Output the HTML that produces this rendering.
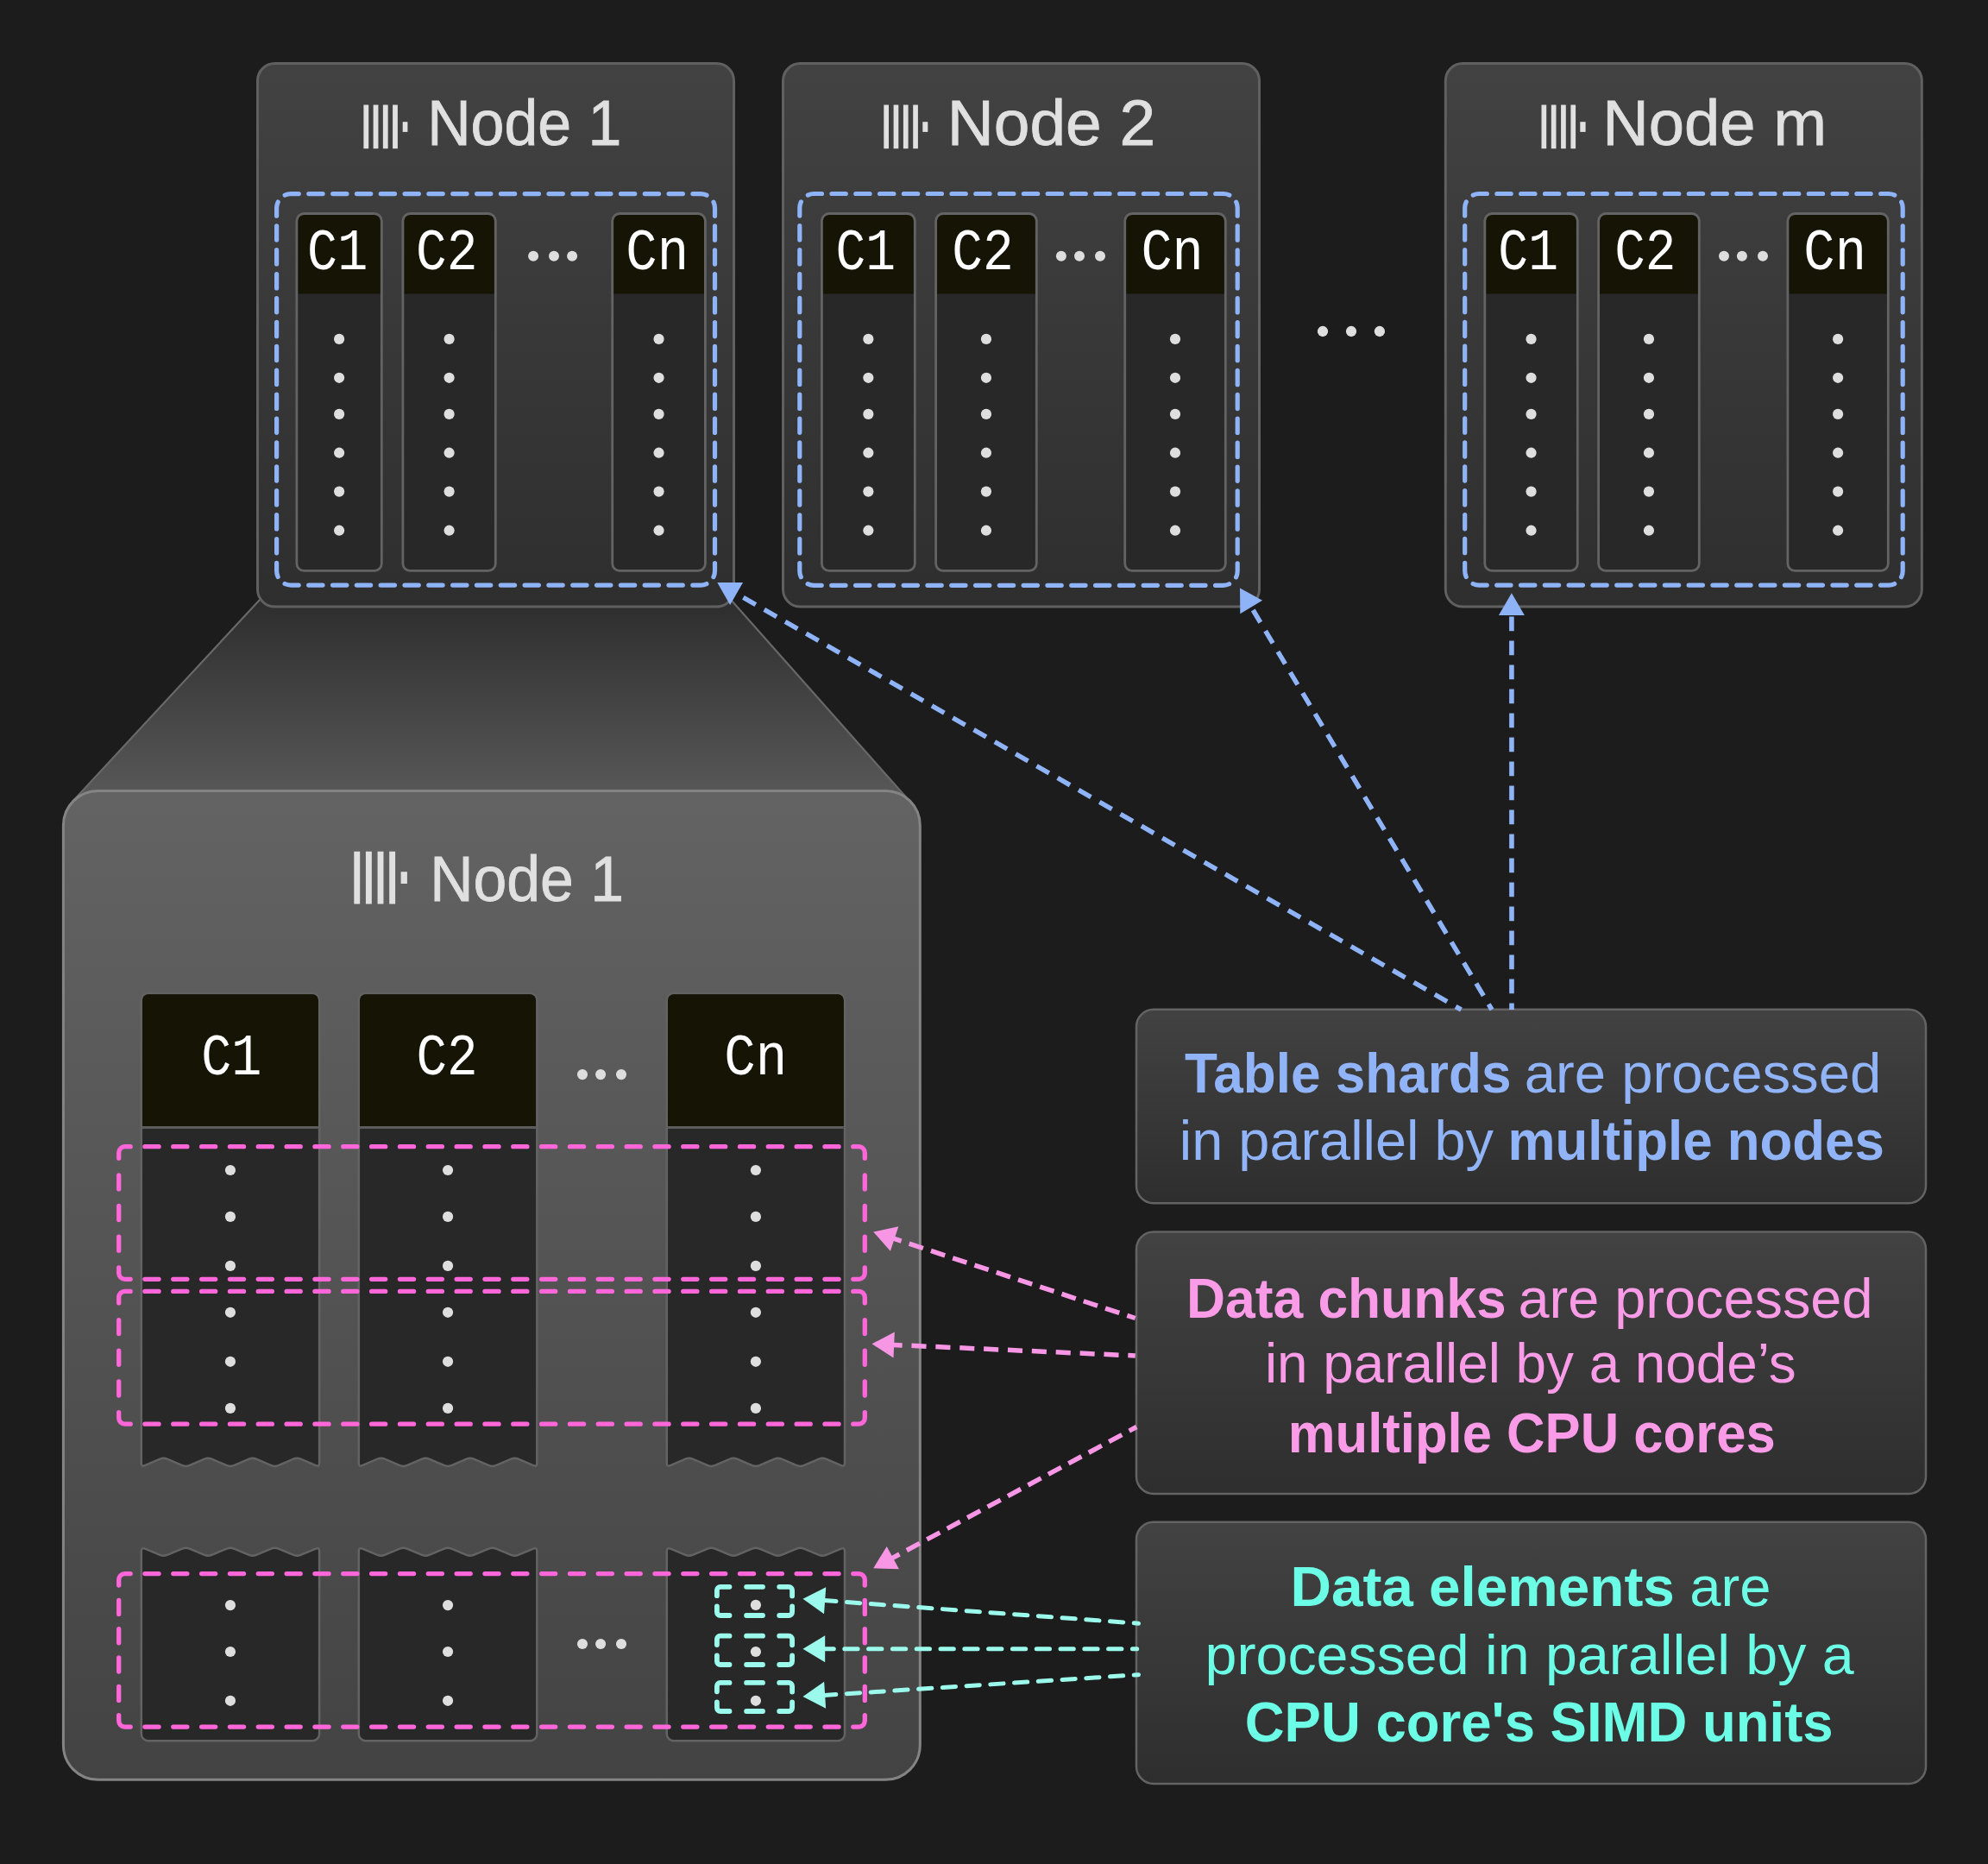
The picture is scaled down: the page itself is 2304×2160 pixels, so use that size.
<!DOCTYPE html><html><head><meta charset="utf-8"><style>html,body{margin:0;padding:0;background:#1c1c1c;overflow:hidden}svg{display:block}</style></head><body>
<svg width="2304" height="2160" viewBox="0 0 2304 2160">
<defs>
<linearGradient id="gNode" x1="0" y1="0" x2="0" y2="1"><stop offset="0" stop-color="#424242"/><stop offset="1" stop-color="#2e2e2e"/></linearGradient>
<linearGradient id="gTrap" gradientUnits="userSpaceOnUse" x1="0" y1="695" x2="0" y2="916"><stop offset="0" stop-color="#2d2d2d"/><stop offset="1" stop-color="#575757"/></linearGradient>
<linearGradient id="gBig" x1="0" y1="0" x2="0" y2="1"><stop offset="0" stop-color="#636363"/><stop offset="1" stop-color="#434343"/></linearGradient>
<linearGradient id="gBox" x1="0" y1="0" x2="0" y2="1"><stop offset="0" stop-color="#424242"/><stop offset="1" stop-color="#2e2e2e"/></linearGradient>
</defs>
<rect x="0" y="0" width="2304" height="2160" fill="#1c1c1c"/>
<polygon points="305.7,690 842.6,690 1055.8,930.3 1026,960 113,960 83.9,929" fill="url(#gTrap)"/>
<path d="M305.7,690 L83.9,929 M842.6,690 L1055.8,930.3" fill="none" stroke="#686868" stroke-width="2.2"/>
<rect x="298.5" y="73.5" width="552" height="629.6" rx="20" fill="url(#gNode)" stroke="#606060" stroke-width="3"/>
<rect x="907.5" y="73.5" width="552" height="629.6" rx="20" fill="url(#gNode)" stroke="#606060" stroke-width="3"/>
<rect x="1675.3" y="73.5" width="552" height="629.6" rx="20" fill="url(#gNode)" stroke="#606060" stroke-width="3"/>
<text x="495.14" y="168.3" font-family="'Liberation Sans', sans-serif" font-size="74.3" font-weight="normal" fill="#e0e0e0" textLength="225.24" lengthAdjust="spacingAndGlyphs" stroke="#e0e0e0" stroke-width="0.8">Node 1</text>
<rect x="421.4" y="121.5" width="5.8" height="50.7" fill="#e0e0e0"/>
<rect x="432.63" y="121.5" width="5.8" height="50.7" fill="#e0e0e0"/>
<rect x="443.86" y="121.5" width="5.8" height="50.7" fill="#e0e0e0"/>
<rect x="455.09" y="121.5" width="5.8" height="50.7" fill="#e0e0e0"/>
<rect x="466.7" y="141.2" width="5.7" height="11.7" fill="#e0e0e0"/>
<rect x="343.9" y="247.5" width="98.4" height="413.9" rx="8.5" fill="#282828"/>
<path d="M345.3,340.5 V256 A7.1,7.1 0 0 1 352.4,248.9 H433.8 A7.1,7.1 0 0 1 440.9,256 V340.5 Z" fill="#151405"/>
<rect x="343.9" y="247.5" width="98.4" height="413.9" rx="8.5" fill="none" stroke="#636363" stroke-width="2.8"/>
<circle cx="393.1" cy="392.9" r="6.1" fill="#dedede"/>
<circle cx="393.1" cy="437.8" r="6.1" fill="#dedede"/>
<circle cx="393.1" cy="479.9" r="6.1" fill="#dedede"/>
<circle cx="393.1" cy="524.7" r="6.1" fill="#dedede"/>
<circle cx="393.1" cy="569.6" r="6.1" fill="#dedede"/>
<circle cx="393.1" cy="614.7" r="6.1" fill="#dedede"/>
<rect x="466.9" y="247.5" width="107.4" height="413.9" rx="8.5" fill="#282828"/>
<path d="M468.3,340.5 V256 A7.1,7.1 0 0 1 475.4,248.9 H565.8 A7.1,7.1 0 0 1 572.9,256 V340.5 Z" fill="#151405"/>
<rect x="466.9" y="247.5" width="107.4" height="413.9" rx="8.5" fill="none" stroke="#636363" stroke-width="2.8"/>
<circle cx="520.6" cy="392.9" r="6.1" fill="#dedede"/>
<circle cx="520.6" cy="437.8" r="6.1" fill="#dedede"/>
<circle cx="520.6" cy="479.9" r="6.1" fill="#dedede"/>
<circle cx="520.6" cy="524.7" r="6.1" fill="#dedede"/>
<circle cx="520.6" cy="569.6" r="6.1" fill="#dedede"/>
<circle cx="520.6" cy="614.7" r="6.1" fill="#dedede"/>
<rect x="709.7" y="247.5" width="107.7" height="413.9" rx="8.5" fill="#282828"/>
<path d="M711.1,340.5 V256 A7.1,7.1 0 0 1 718.2,248.9 H808.9 A7.1,7.1 0 0 1 816,256 V340.5 Z" fill="#151405"/>
<rect x="709.7" y="247.5" width="107.7" height="413.9" rx="8.5" fill="none" stroke="#636363" stroke-width="2.8"/>
<circle cx="763.55" cy="392.9" r="6.1" fill="#dedede"/>
<circle cx="763.55" cy="437.8" r="6.1" fill="#dedede"/>
<circle cx="763.55" cy="479.9" r="6.1" fill="#dedede"/>
<circle cx="763.55" cy="524.7" r="6.1" fill="#dedede"/>
<circle cx="763.55" cy="569.6" r="6.1" fill="#dedede"/>
<circle cx="763.55" cy="614.7" r="6.1" fill="#dedede"/>
<text x="356.09" y="312.3" font-family="'Liberation Mono', monospace" font-size="68.8" font-weight="normal" fill="#ffffff" textLength="70.1" lengthAdjust="spacingAndGlyphs">C1</text>
<text x="482.03" y="312.3" font-family="'Liberation Mono', monospace" font-size="68.8" font-weight="normal" fill="#ffffff" textLength="71.46" lengthAdjust="spacingAndGlyphs">C2</text>
<text x="725.26" y="312.3" font-family="'Liberation Mono', monospace" font-size="68.8" font-weight="normal" fill="#ffffff" textLength="72.87" lengthAdjust="spacingAndGlyphs">Cn</text>
<circle cx="618.1" cy="296.8" r="6" fill="#dedede"/>
<circle cx="642" cy="296.8" r="6" fill="#dedede"/>
<circle cx="663.1" cy="296.8" r="6" fill="#dedede"/>
<path d="M325.43,229.43 A16.5,16.5 0 0 1 337.1,224.6 H812 A16.5,16.5 0 0 1 823.67,229.43" fill="none" stroke="#8fb3f7" stroke-width="5.2" stroke-linecap="round" stroke-dasharray="16.3 11.52" stroke-dashoffset="22.06"/>
<path d="M823.67,229.43 A16.5,16.5 0 0 1 828.5,241.1 V661.6 A16.5,16.5 0 0 1 823.67,673.27" fill="none" stroke="#8fb3f7" stroke-width="5.2" stroke-linecap="round" stroke-dasharray="16.3 11.6" stroke-dashoffset="22.1"/>
<path d="M823.67,673.27 A16.5,16.5 0 0 1 812,678.1 H337.1 A16.5,16.5 0 0 1 325.43,673.27" fill="none" stroke="#8fb3f7" stroke-width="5.2" stroke-linecap="round" stroke-dasharray="16.3 11.52" stroke-dashoffset="22.06"/>
<path d="M325.43,673.27 A16.5,16.5 0 0 1 320.6,661.6 V241.1 A16.5,16.5 0 0 1 325.43,229.43" fill="none" stroke="#8fb3f7" stroke-width="5.2" stroke-linecap="round" stroke-dasharray="16.3 11.6" stroke-dashoffset="22.1"/>
<text x="1097.72" y="168.3" font-family="'Liberation Sans', sans-serif" font-size="74.3" font-weight="normal" fill="#e0e0e0" textLength="241.38" lengthAdjust="spacingAndGlyphs" stroke="#e0e0e0" stroke-width="0.8">Node 2</text>
<rect x="1024.3" y="121.5" width="5.7" height="50.7" fill="#e0e0e0"/>
<rect x="1035.6" y="121.5" width="5.7" height="50.7" fill="#e0e0e0"/>
<rect x="1046.9" y="121.5" width="5.7" height="50.7" fill="#e0e0e0"/>
<rect x="1058.2" y="121.5" width="5.7" height="50.7" fill="#e0e0e0"/>
<rect x="1069.3" y="141.2" width="6" height="11.7" fill="#e0e0e0"/>
<rect x="952.4" y="247.5" width="107.9" height="413.9" rx="8.5" fill="#282828"/>
<path d="M953.8,340.5 V256 A7.1,7.1 0 0 1 960.9,248.9 H1051.8 A7.1,7.1 0 0 1 1058.9,256 V340.5 Z" fill="#151405"/>
<rect x="952.4" y="247.5" width="107.9" height="413.9" rx="8.5" fill="none" stroke="#636363" stroke-width="2.8"/>
<circle cx="1006.35" cy="392.9" r="6.1" fill="#dedede"/>
<circle cx="1006.35" cy="437.8" r="6.1" fill="#dedede"/>
<circle cx="1006.35" cy="479.9" r="6.1" fill="#dedede"/>
<circle cx="1006.35" cy="524.7" r="6.1" fill="#dedede"/>
<circle cx="1006.35" cy="569.6" r="6.1" fill="#dedede"/>
<circle cx="1006.35" cy="614.7" r="6.1" fill="#dedede"/>
<rect x="1084.6" y="247.5" width="116.7" height="413.9" rx="8.5" fill="#282828"/>
<path d="M1086,340.5 V256 A7.1,7.1 0 0 1 1093.1,248.9 H1192.8 A7.1,7.1 0 0 1 1199.9,256 V340.5 Z" fill="#151405"/>
<rect x="1084.6" y="247.5" width="116.7" height="413.9" rx="8.5" fill="none" stroke="#636363" stroke-width="2.8"/>
<circle cx="1142.95" cy="392.9" r="6.1" fill="#dedede"/>
<circle cx="1142.95" cy="437.8" r="6.1" fill="#dedede"/>
<circle cx="1142.95" cy="479.9" r="6.1" fill="#dedede"/>
<circle cx="1142.95" cy="524.7" r="6.1" fill="#dedede"/>
<circle cx="1142.95" cy="569.6" r="6.1" fill="#dedede"/>
<circle cx="1142.95" cy="614.7" r="6.1" fill="#dedede"/>
<rect x="1303.7" y="247.5" width="116.6" height="413.9" rx="8.5" fill="#282828"/>
<path d="M1305.1,340.5 V256 A7.1,7.1 0 0 1 1312.2,248.9 H1411.8 A7.1,7.1 0 0 1 1418.9,256 V340.5 Z" fill="#151405"/>
<rect x="1303.7" y="247.5" width="116.6" height="413.9" rx="8.5" fill="none" stroke="#636363" stroke-width="2.8"/>
<circle cx="1362" cy="392.9" r="6.1" fill="#dedede"/>
<circle cx="1362" cy="437.8" r="6.1" fill="#dedede"/>
<circle cx="1362" cy="479.9" r="6.1" fill="#dedede"/>
<circle cx="1362" cy="524.7" r="6.1" fill="#dedede"/>
<circle cx="1362" cy="569.6" r="6.1" fill="#dedede"/>
<circle cx="1362" cy="614.7" r="6.1" fill="#dedede"/>
<text x="968.41" y="312.3" font-family="'Liberation Mono', monospace" font-size="68.8" font-weight="normal" fill="#ffffff" textLength="69.55" lengthAdjust="spacingAndGlyphs">C1</text>
<text x="1103.22" y="312.3" font-family="'Liberation Mono', monospace" font-size="68.8" font-weight="normal" fill="#ffffff" textLength="71.57" lengthAdjust="spacingAndGlyphs">C2</text>
<text x="1322.39" y="312.3" font-family="'Liberation Mono', monospace" font-size="68.8" font-weight="normal" fill="#ffffff" textLength="72.3" lengthAdjust="spacingAndGlyphs">Cn</text>
<circle cx="1229.9" cy="296.8" r="6" fill="#dedede"/>
<circle cx="1251" cy="296.8" r="6" fill="#dedede"/>
<circle cx="1275" cy="296.8" r="6" fill="#dedede"/>
<path d="M931.63,229.33 A16.5,16.5 0 0 1 943.3,224.5 H1417.7 A16.5,16.5 0 0 1 1429.37,229.33" fill="none" stroke="#8fb3f7" stroke-width="5.2" stroke-linecap="round" stroke-dasharray="16.3 11.5" stroke-dashoffset="22.05"/>
<path d="M1429.37,229.33 A16.5,16.5 0 0 1 1434.2,241 V661.8 A16.5,16.5 0 0 1 1429.37,673.47" fill="none" stroke="#8fb3f7" stroke-width="5.2" stroke-linecap="round" stroke-dasharray="16.3 11.62" stroke-dashoffset="22.11"/>
<path d="M1429.37,673.47 A16.5,16.5 0 0 1 1417.7,678.3 H943.3 A16.5,16.5 0 0 1 931.63,673.47" fill="none" stroke="#8fb3f7" stroke-width="5.2" stroke-linecap="round" stroke-dasharray="16.3 11.5" stroke-dashoffset="22.05"/>
<path d="M931.63,673.47 A16.5,16.5 0 0 1 926.8,661.8 V241 A16.5,16.5 0 0 1 931.63,229.33" fill="none" stroke="#8fb3f7" stroke-width="5.2" stroke-linecap="round" stroke-dasharray="16.3 11.62" stroke-dashoffset="22.11"/>
<text x="1857.28" y="168.3" font-family="'Liberation Sans', sans-serif" font-size="74.3" font-weight="normal" fill="#e0e0e0" textLength="259.65" lengthAdjust="spacingAndGlyphs" stroke="#e0e0e0" stroke-width="0.8">Node m</text>
<rect x="1786.5" y="121.5" width="5.7" height="50.7" fill="#e0e0e0"/>
<rect x="1797.8" y="121.5" width="5.7" height="50.7" fill="#e0e0e0"/>
<rect x="1809.1" y="121.5" width="5.7" height="50.7" fill="#e0e0e0"/>
<rect x="1820.4" y="121.5" width="5.7" height="50.7" fill="#e0e0e0"/>
<rect x="1831.3" y="141.2" width="6.3" height="11.7" fill="#e0e0e0"/>
<rect x="1720.8" y="247.5" width="107.5" height="413.9" rx="8.5" fill="#282828"/>
<path d="M1722.2,340.5 V256 A7.1,7.1 0 0 1 1729.3,248.9 H1819.8 A7.1,7.1 0 0 1 1826.9,256 V340.5 Z" fill="#151405"/>
<rect x="1720.8" y="247.5" width="107.5" height="413.9" rx="8.5" fill="none" stroke="#636363" stroke-width="2.8"/>
<circle cx="1774.55" cy="392.9" r="6.1" fill="#dedede"/>
<circle cx="1774.55" cy="437.8" r="6.1" fill="#dedede"/>
<circle cx="1774.55" cy="479.9" r="6.1" fill="#dedede"/>
<circle cx="1774.55" cy="524.7" r="6.1" fill="#dedede"/>
<circle cx="1774.55" cy="569.6" r="6.1" fill="#dedede"/>
<circle cx="1774.55" cy="614.7" r="6.1" fill="#dedede"/>
<rect x="1852.6" y="247.5" width="116.7" height="413.9" rx="8.5" fill="#282828"/>
<path d="M1854,340.5 V256 A7.1,7.1 0 0 1 1861.1,248.9 H1960.8 A7.1,7.1 0 0 1 1967.9,256 V340.5 Z" fill="#151405"/>
<rect x="1852.6" y="247.5" width="116.7" height="413.9" rx="8.5" fill="none" stroke="#636363" stroke-width="2.8"/>
<circle cx="1910.95" cy="392.9" r="6.1" fill="#dedede"/>
<circle cx="1910.95" cy="437.8" r="6.1" fill="#dedede"/>
<circle cx="1910.95" cy="479.9" r="6.1" fill="#dedede"/>
<circle cx="1910.95" cy="524.7" r="6.1" fill="#dedede"/>
<circle cx="1910.95" cy="569.6" r="6.1" fill="#dedede"/>
<circle cx="1910.95" cy="614.7" r="6.1" fill="#dedede"/>
<rect x="2071.9" y="247.5" width="116.4" height="413.9" rx="8.5" fill="#282828"/>
<path d="M2073.3,340.5 V256 A7.1,7.1 0 0 1 2080.4,248.9 H2179.8 A7.1,7.1 0 0 1 2186.9,256 V340.5 Z" fill="#151405"/>
<rect x="2071.9" y="247.5" width="116.4" height="413.9" rx="8.5" fill="none" stroke="#636363" stroke-width="2.8"/>
<circle cx="2130.1" cy="392.9" r="6.1" fill="#dedede"/>
<circle cx="2130.1" cy="437.8" r="6.1" fill="#dedede"/>
<circle cx="2130.1" cy="479.9" r="6.1" fill="#dedede"/>
<circle cx="2130.1" cy="524.7" r="6.1" fill="#dedede"/>
<circle cx="2130.1" cy="569.6" r="6.1" fill="#dedede"/>
<circle cx="2130.1" cy="614.7" r="6.1" fill="#dedede"/>
<text x="1736.31" y="312.3" font-family="'Liberation Mono', monospace" font-size="68.8" font-weight="normal" fill="#ffffff" textLength="69.66" lengthAdjust="spacingAndGlyphs">C1</text>
<text x="1871.14" y="312.3" font-family="'Liberation Mono', monospace" font-size="68.8" font-weight="normal" fill="#ffffff" textLength="71.23" lengthAdjust="spacingAndGlyphs">C2</text>
<text x="2090.37" y="312.3" font-family="'Liberation Mono', monospace" font-size="68.8" font-weight="normal" fill="#ffffff" textLength="72.64" lengthAdjust="spacingAndGlyphs">Cn</text>
<circle cx="1998" cy="296.8" r="6" fill="#dedede"/>
<circle cx="2018.9" cy="296.8" r="6" fill="#dedede"/>
<circle cx="2043" cy="296.8" r="6" fill="#dedede"/>
<path d="M1702.53,229.33 A16.5,16.5 0 0 1 1714.2,224.5 H2188.7 A16.5,16.5 0 0 1 2200.37,229.33" fill="none" stroke="#8fb3f7" stroke-width="5.2" stroke-linecap="round" stroke-dasharray="16.3 11.5" stroke-dashoffset="22.05"/>
<path d="M2200.37,229.33 A16.5,16.5 0 0 1 2205.2,241 V661.6 A16.5,16.5 0 0 1 2200.37,673.27" fill="none" stroke="#8fb3f7" stroke-width="5.2" stroke-linecap="round" stroke-dasharray="16.3 11.61" stroke-dashoffset="22.1"/>
<path d="M2200.37,673.27 A16.5,16.5 0 0 1 2188.7,678.1 H1714.2 A16.5,16.5 0 0 1 1702.53,673.27" fill="none" stroke="#8fb3f7" stroke-width="5.2" stroke-linecap="round" stroke-dasharray="16.3 11.5" stroke-dashoffset="22.05"/>
<path d="M1702.53,673.27 A16.5,16.5 0 0 1 1697.7,661.6 V241 A16.5,16.5 0 0 1 1702.53,229.33" fill="none" stroke="#8fb3f7" stroke-width="5.2" stroke-linecap="round" stroke-dasharray="16.3 11.61" stroke-dashoffset="22.1"/>
<circle cx="1533" cy="384" r="6.15" fill="#dedede"/>
<circle cx="1566" cy="384" r="6.15" fill="#dedede"/>
<circle cx="1598.9" cy="384" r="6.15" fill="#dedede"/>
<rect x="73.4" y="916.4" width="992.9" height="1145.9" rx="40" fill="url(#gBig)" stroke="#848484" stroke-width="3"/>
<text x="498.15" y="1043.9" font-family="'Liberation Sans', sans-serif" font-size="73.7" font-weight="normal" fill="#e0e0e0" textLength="224.92" lengthAdjust="spacingAndGlyphs" stroke="#e0e0e0" stroke-width="0.8">Node 1</text>
<rect x="410.3" y="986.7" width="6.9" height="60.8" fill="#e0e0e0"/>
<rect x="423.93" y="986.7" width="6.9" height="60.8" fill="#e0e0e0"/>
<rect x="437.56" y="986.7" width="6.9" height="60.8" fill="#e0e0e0"/>
<rect x="451.19" y="986.7" width="6.9" height="60.8" fill="#e0e0e0"/>
<rect x="464.6" y="1010.2" width="7.3" height="13.8" fill="#e0e0e0"/>
<path d="M370.1,1159 L370.1,1695.5 Q370.1,1700 365.97,1698.21 L348.44,1690.59 Q344.31,1688.8 340.18,1690.59 L322.65,1698.21 Q318.53,1700 314.4,1698.21 L296.87,1690.59 Q292.74,1688.8 288.61,1690.59 L271.08,1698.21 Q266.95,1700 262.82,1698.21 L245.29,1690.59 Q241.16,1688.8 237.03,1690.59 L219.5,1698.21 Q215.38,1700 211.25,1698.21 L193.72,1690.59 Q189.59,1688.8 185.46,1690.59 L167.93,1698.21 Q163.8,1700 163.8,1695.5 L163.8,1159 A8,8 0 0 1 171.8,1151 H362.1 A8,8 0 0 1 370.1,1159 Z" fill="#282828" stroke="#636363" stroke-width="2.5" stroke-linejoin="round"/>
<path d="M165.05,1305 V1159 A6.75,6.75 0 0 1 171.8,1152.25 H362.1 A6.75,6.75 0 0 1 368.85,1159 V1305 Z" fill="#151405"/>
<rect x="165.05" y="1305" width="203.8" height="3" fill="#5c5c5c"/>
<path d="M163.8,2009.2 L163.8,1797.5 Q163.8,1793 167.97,1794.7 L185.42,1801.8 Q189.59,1803.5 193.76,1801.8 L211.21,1794.7 Q215.38,1793 219.54,1794.7 L236.99,1801.8 Q241.16,1803.5 245.33,1801.8 L262.78,1794.7 Q266.95,1793 271.12,1794.7 L288.57,1801.8 Q292.74,1803.5 296.91,1801.8 L314.36,1794.7 Q318.53,1793 322.69,1794.7 L340.14,1801.8 Q344.31,1803.5 348.48,1801.8 L365.93,1794.7 Q370.1,1793 370.1,1797.5 L370.1,2009.2 A8,8 0 0 1 362.1,2017.2 H171.8 A8,8 0 0 1 163.8,2009.2 Z" fill="#282828" stroke="#636363" stroke-width="2.5" stroke-linejoin="round"/>
<circle cx="266.95" cy="1356" r="6.1" fill="#dedede"/>
<circle cx="266.95" cy="1409.9" r="6.1" fill="#dedede"/>
<circle cx="266.95" cy="1466.9" r="6.1" fill="#dedede"/>
<circle cx="266.95" cy="1520.8" r="6.1" fill="#dedede"/>
<circle cx="266.95" cy="1577.8" r="6.1" fill="#dedede"/>
<circle cx="266.95" cy="1631.9" r="6.1" fill="#dedede"/>
<text x="233.19" y="1245" font-family="'Liberation Mono', monospace" font-size="68.8" font-weight="normal" fill="#ffffff" textLength="70.1" lengthAdjust="spacingAndGlyphs">C1</text>
<path d="M622.3,1159 L622.3,1695.5 Q622.3,1700 618.17,1698.21 L600.62,1690.59 Q596.49,1688.8 592.36,1690.59 L574.8,1698.21 Q570.67,1700 566.55,1698.21 L548.99,1690.59 Q544.86,1688.8 540.73,1690.59 L523.18,1698.21 Q519.05,1700 514.92,1698.21 L497.37,1690.59 Q493.24,1688.8 489.11,1690.59 L471.55,1698.21 Q467.43,1700 463.3,1698.21 L445.74,1690.59 Q441.61,1688.8 437.48,1690.59 L419.93,1698.21 Q415.8,1700 415.8,1695.5 L415.8,1159 A8,8 0 0 1 423.8,1151 H614.3 A8,8 0 0 1 622.3,1159 Z" fill="#282828" stroke="#636363" stroke-width="2.5" stroke-linejoin="round"/>
<path d="M417.05,1305 V1159 A6.75,6.75 0 0 1 423.8,1152.25 H614.3 A6.75,6.75 0 0 1 621.05,1159 V1305 Z" fill="#151405"/>
<rect x="417.05" y="1305" width="204" height="3" fill="#5c5c5c"/>
<path d="M415.8,2009.2 L415.8,1797.5 Q415.8,1793 419.97,1794.7 L437.44,1801.8 Q441.61,1803.5 445.78,1801.8 L463.26,1794.7 Q467.43,1793 471.59,1794.7 L489.07,1801.8 Q493.24,1803.5 497.41,1801.8 L514.88,1794.7 Q519.05,1793 523.22,1794.7 L540.69,1801.8 Q544.86,1803.5 549.03,1801.8 L566.51,1794.7 Q570.67,1793 574.84,1794.7 L592.32,1801.8 Q596.49,1803.5 600.66,1801.8 L618.13,1794.7 Q622.3,1793 622.3,1797.5 L622.3,2009.2 A8,8 0 0 1 614.3,2017.2 H423.8 A8,8 0 0 1 415.8,2009.2 Z" fill="#282828" stroke="#636363" stroke-width="2.5" stroke-linejoin="round"/>
<circle cx="519.05" cy="1356" r="6.1" fill="#dedede"/>
<circle cx="519.05" cy="1409.9" r="6.1" fill="#dedede"/>
<circle cx="519.05" cy="1466.9" r="6.1" fill="#dedede"/>
<circle cx="519.05" cy="1520.8" r="6.1" fill="#dedede"/>
<circle cx="519.05" cy="1577.8" r="6.1" fill="#dedede"/>
<circle cx="519.05" cy="1631.9" r="6.1" fill="#dedede"/>
<text x="482.44" y="1245" font-family="'Liberation Mono', monospace" font-size="68.8" font-weight="normal" fill="#ffffff" textLength="71.12" lengthAdjust="spacingAndGlyphs">C2</text>
<path d="M979,1159 L979,1695.5 Q979,1700 974.87,1698.21 L957.35,1690.59 Q953.23,1688.8 949.1,1690.59 L931.58,1698.21 Q927.45,1700 923.32,1698.21 L905.8,1690.59 Q901.67,1688.8 897.55,1690.59 L880.03,1698.21 Q875.9,1700 871.77,1698.21 L854.25,1690.59 Q850.12,1688.8 846,1690.59 L828.48,1698.21 Q824.35,1700 820.22,1698.21 L802.7,1690.59 Q798.57,1688.8 794.45,1690.59 L776.93,1698.21 Q772.8,1700 772.8,1695.5 L772.8,1159 A8,8 0 0 1 780.8,1151 H971 A8,8 0 0 1 979,1159 Z" fill="#282828" stroke="#636363" stroke-width="2.5" stroke-linejoin="round"/>
<path d="M774.05,1305 V1159 A6.75,6.75 0 0 1 780.8,1152.25 H971 A6.75,6.75 0 0 1 977.75,1159 V1305 Z" fill="#151405"/>
<rect x="774.05" y="1305" width="203.7" height="3" fill="#5c5c5c"/>
<path d="M772.8,2009.2 L772.8,1797.5 Q772.8,1793 776.97,1794.7 L794.41,1801.8 Q798.57,1803.5 802.74,1801.8 L820.18,1794.7 Q824.35,1793 828.52,1794.7 L845.96,1801.8 Q850.12,1803.5 854.29,1801.8 L871.73,1794.7 Q875.9,1793 880.07,1794.7 L897.51,1801.8 Q901.67,1803.5 905.84,1801.8 L923.28,1794.7 Q927.45,1793 931.62,1794.7 L949.06,1801.8 Q953.23,1803.5 957.39,1801.8 L974.83,1794.7 Q979,1793 979,1797.5 L979,2009.2 A8,8 0 0 1 971,2017.2 H780.8 A8,8 0 0 1 772.8,2009.2 Z" fill="#282828" stroke="#636363" stroke-width="2.5" stroke-linejoin="round"/>
<circle cx="875.9" cy="1356" r="6.1" fill="#dedede"/>
<circle cx="875.9" cy="1409.9" r="6.1" fill="#dedede"/>
<circle cx="875.9" cy="1466.9" r="6.1" fill="#dedede"/>
<circle cx="875.9" cy="1520.8" r="6.1" fill="#dedede"/>
<circle cx="875.9" cy="1577.8" r="6.1" fill="#dedede"/>
<circle cx="875.9" cy="1631.9" r="6.1" fill="#dedede"/>
<text x="839.25" y="1245" font-family="'Liberation Mono', monospace" font-size="68.8" font-weight="normal" fill="#ffffff" textLength="73.09" lengthAdjust="spacingAndGlyphs">Cn</text>
<circle cx="266.95" cy="1860.1" r="6.1" fill="#dedede"/>
<circle cx="266.95" cy="1914" r="6.1" fill="#dedede"/>
<circle cx="266.95" cy="1970.8" r="6.1" fill="#dedede"/>
<circle cx="519.05" cy="1860.1" r="6.1" fill="#dedede"/>
<circle cx="519.05" cy="1914" r="6.1" fill="#dedede"/>
<circle cx="519.05" cy="1970.8" r="6.1" fill="#dedede"/>
<circle cx="875.9" cy="1859.9" r="6.1" fill="#dedede"/>
<circle cx="875.9" cy="1914" r="6.1" fill="#dedede"/>
<circle cx="875.9" cy="1970.8" r="6.1" fill="#dedede"/>
<circle cx="675" cy="1245.1" r="6.05" fill="#dedede"/>
<circle cx="675" cy="1905" r="6.05" fill="#dedede"/>
<circle cx="696.1" cy="1245.1" r="6.05" fill="#dedede"/>
<circle cx="696.1" cy="1905" r="6.05" fill="#dedede"/>
<circle cx="720" cy="1245.1" r="6.05" fill="#dedede"/>
<circle cx="720" cy="1905" r="6.05" fill="#dedede"/>
<path d="M830.9,1849.2 V1842.8 A4,4 0 0 1 834.9,1838.8 H845.5 M865.1,1838.8 H884 M903.2,1838.8 H914.1 A4,4 0 0 1 918.1,1842.8 V1849.4 M830.9,1861.4 V1868 A4,4 0 0 0 834.9,1872 H845.5 M865.1,1872 H884 M903.2,1872 H914.1 A4,4 0 0 0 918.1,1868 V1861.4" fill="none" stroke="#9cfaec" stroke-width="5.8" stroke-linecap="round" stroke-linejoin="round"/>
<path d="M830.9,1906.1 V1899.7 A4,4 0 0 1 834.9,1895.7 H845.5 M865.1,1895.7 H884 M903.2,1895.7 H914.1 A4,4 0 0 1 918.1,1899.7 V1906.3 M830.9,1918.3 V1925 A4,4 0 0 0 834.9,1929 H845.5 M865.1,1929 H884 M903.2,1929 H914.1 A4,4 0 0 0 918.1,1925 V1918.3" fill="none" stroke="#9cfaec" stroke-width="5.8" stroke-linecap="round" stroke-linejoin="round"/>
<path d="M830.9,1960.3 V1953.9 A4,4 0 0 1 834.9,1949.9 H845.5 M865.1,1949.9 H884 M903.2,1949.9 H914.1 A4,4 0 0 1 918.1,1953.9 V1960.5 M830.9,1972.5 V1979 A4,4 0 0 0 834.9,1983 H845.5 M865.1,1983 H884 M903.2,1983 H914.1 A4,4 0 0 0 918.1,1979 V1972.5" fill="none" stroke="#9cfaec" stroke-width="5.8" stroke-linecap="round" stroke-linejoin="round"/>
<rect x="1317" y="1169.7" width="915" height="224.5" rx="20" fill="url(#gBox)" stroke="#636363" stroke-width="2.5"/>
<rect x="1317" y="1427.6" width="915" height="303.4" rx="20" fill="url(#gBox)" stroke="#636363" stroke-width="2.5"/>
<rect x="1317" y="1763.8" width="915" height="303.2" rx="20" fill="url(#gBox)" stroke="#636363" stroke-width="2.5"/>
<text x="1372.98" y="1265.7" font-family="'Liberation Sans', sans-serif" font-size="64.7" font-weight="bold" fill="#91b4f8" textLength="378.5" lengthAdjust="spacingAndGlyphs">Table shards</text>
<text x="1766.83" y="1265.7" font-family="'Liberation Sans', sans-serif" font-size="64.7" font-weight="normal" fill="#91b4f8" textLength="413.38" lengthAdjust="spacingAndGlyphs">are processed</text>
<text x="1366.82" y="1344" font-family="'Liberation Sans', sans-serif" font-size="64.7" font-weight="normal" fill="#91b4f8" textLength="364.21" lengthAdjust="spacingAndGlyphs">in parallel by</text>
<text x="1747.48" y="1344" font-family="'Liberation Sans', sans-serif" font-size="64.7" font-weight="bold" fill="#91b4f8" textLength="436.38" lengthAdjust="spacingAndGlyphs">multiple nodes</text>
<text x="1374.99" y="1527.1" font-family="'Liberation Sans', sans-serif" font-size="64.7" font-weight="bold" fill="#f99be7" textLength="370.59" lengthAdjust="spacingAndGlyphs">Data chunks</text>
<text x="1759.54" y="1527.1" font-family="'Liberation Sans', sans-serif" font-size="64.7" font-weight="normal" fill="#f99be7" textLength="410.94" lengthAdjust="spacingAndGlyphs">are processed</text>
<text x="1465.9" y="1602" font-family="'Liberation Sans', sans-serif" font-size="64.7" font-weight="normal" fill="#f99be7" textLength="615.75" lengthAdjust="spacingAndGlyphs">in parallel by a node’s</text>
<text x="1492.79" y="1682.8" font-family="'Liberation Sans', sans-serif" font-size="64.7" font-weight="bold" fill="#f99be7" textLength="564.98" lengthAdjust="spacingAndGlyphs">multiple CPU cores</text>
<text x="1495.47" y="1861" font-family="'Liberation Sans', sans-serif" font-size="64.7" font-weight="bold" fill="#6cfde6" textLength="445.32" lengthAdjust="spacingAndGlyphs">Data elements</text>
<text x="1958.33" y="1861" font-family="'Liberation Sans', sans-serif" font-size="64.7" font-weight="normal" fill="#6cfde6" textLength="94.16" lengthAdjust="spacingAndGlyphs">are</text>
<text x="1396.59" y="1939.5" font-family="'Liberation Sans', sans-serif" font-size="64.7" font-weight="normal" fill="#6cfde6" textLength="752.16" lengthAdjust="spacingAndGlyphs">processed in parallel by a</text>
<text x="1442.76" y="2018" font-family="'Liberation Sans', sans-serif" font-size="64.7" font-weight="bold" fill="#6cfde6" textLength="681.88" lengthAdjust="spacingAndGlyphs">CPU core&#39;s SIMD units</text>
<path d="M1319.5,1881.2 L955.13,1854.6" fill="none" stroke="#9cfaec" stroke-width="5.0" stroke-linecap="round" stroke-dasharray="15.3 12.5" stroke-dashoffset="10"/>
<polygon points="930.5,1852.8 957.26,1839.21 955,1870.13" fill="#9cfaec"/>
<path d="M1317.7,1910.8 L955.2,1910.8" fill="none" stroke="#9cfaec" stroke-width="5.0" stroke-linecap="round" stroke-dasharray="15.3 12.5" stroke-dashoffset="10"/>
<polygon points="930.5,1910.8 956.2,1895.3 956.2,1926.3" fill="#9cfaec"/>
<path d="M1319.5,1940.7 L955.15,1964.4" fill="none" stroke="#9cfaec" stroke-width="5.0" stroke-linecap="round" stroke-dasharray="15.3 12.5" stroke-dashoffset="10"/>
<polygon points="930.5,1966 955.14,1948.86 957.15,1979.8" fill="#9cfaec"/>
<path d="M137.7,1342.2 V1335.7 A7,7 0 0 1 144.7,1328.7 H151.2 M988.8,1328.7 H995.3 A7,7 0 0 1 1002.3,1335.7 V1342.2 M1002.3,1468.8 V1475.3 A7,7 0 0 1 995.3,1482.3 H988.8 M151.2,1482.3 H144.7 A7,7 0 0 1 137.7,1475.3 V1468.8 M167.93,1328.7 H184.03 M167.93,1482.3 H184.03 M200.77,1328.7 H216.87 M200.77,1482.3 H216.87 M233.6,1328.7 H249.7 M233.6,1482.3 H249.7 M266.44,1328.7 H282.54 M266.44,1482.3 H282.54 M299.27,1328.7 H315.37 M299.27,1482.3 H315.37 M332.11,1328.7 H348.21 M332.11,1482.3 H348.21 M364.94,1328.7 H381.04 M364.94,1482.3 H381.04 M397.78,1328.7 H413.88 M397.78,1482.3 H413.88 M430.61,1328.7 H446.71 M430.61,1482.3 H446.71 M463.45,1328.7 H479.55 M463.45,1482.3 H479.55 M496.28,1328.7 H512.38 M496.28,1482.3 H512.38 M529.12,1328.7 H545.22 M529.12,1482.3 H545.22 M561.95,1328.7 H578.05 M561.95,1482.3 H578.05 M594.78,1328.7 H610.88 M594.78,1482.3 H610.88 M627.62,1328.7 H643.72 M627.62,1482.3 H643.72 M660.45,1328.7 H676.55 M660.45,1482.3 H676.55 M693.29,1328.7 H709.39 M693.29,1482.3 H709.39 M726.12,1328.7 H742.22 M726.12,1482.3 H742.22 M758.96,1328.7 H775.06 M758.96,1482.3 H775.06 M791.79,1328.7 H807.89 M791.79,1482.3 H807.89 M824.63,1328.7 H840.73 M824.63,1482.3 H840.73 M857.46,1328.7 H873.56 M857.46,1482.3 H873.56 M890.3,1328.7 H906.4 M890.3,1482.3 H906.4 M923.13,1328.7 H939.23 M923.13,1482.3 H939.23 M955.97,1328.7 H972.07 M955.97,1482.3 H972.07 M137.7,1361.78 V1377.88 M1002.3,1361.78 V1377.88 M137.7,1397.45 V1413.55 M1002.3,1397.45 V1413.55 M137.7,1433.12 V1449.22 M1002.3,1433.12 V1449.22" fill="none" stroke="#ff66d9" stroke-width="5.3" stroke-linecap="round"/>
<path d="M137.7,1509.9 V1503.4 A7,7 0 0 1 144.7,1496.4 H151.2 M988.8,1496.4 H995.3 A7,7 0 0 1 1002.3,1503.4 V1509.9 M1002.3,1636.7 V1643.2 A7,7 0 0 1 995.3,1650.2 H988.8 M151.2,1650.2 H144.7 A7,7 0 0 1 137.7,1643.2 V1636.7 M167.93,1496.4 H184.03 M167.93,1650.2 H184.03 M200.77,1496.4 H216.87 M200.77,1650.2 H216.87 M233.6,1496.4 H249.7 M233.6,1650.2 H249.7 M266.44,1496.4 H282.54 M266.44,1650.2 H282.54 M299.27,1496.4 H315.37 M299.27,1650.2 H315.37 M332.11,1496.4 H348.21 M332.11,1650.2 H348.21 M364.94,1496.4 H381.04 M364.94,1650.2 H381.04 M397.78,1496.4 H413.88 M397.78,1650.2 H413.88 M430.61,1496.4 H446.71 M430.61,1650.2 H446.71 M463.45,1496.4 H479.55 M463.45,1650.2 H479.55 M496.28,1496.4 H512.38 M496.28,1650.2 H512.38 M529.12,1496.4 H545.22 M529.12,1650.2 H545.22 M561.95,1496.4 H578.05 M561.95,1650.2 H578.05 M594.78,1496.4 H610.88 M594.78,1650.2 H610.88 M627.62,1496.4 H643.72 M627.62,1650.2 H643.72 M660.45,1496.4 H676.55 M660.45,1650.2 H676.55 M693.29,1496.4 H709.39 M693.29,1650.2 H709.39 M726.12,1496.4 H742.22 M726.12,1650.2 H742.22 M758.96,1496.4 H775.06 M758.96,1650.2 H775.06 M791.79,1496.4 H807.89 M791.79,1650.2 H807.89 M824.63,1496.4 H840.73 M824.63,1650.2 H840.73 M857.46,1496.4 H873.56 M857.46,1650.2 H873.56 M890.3,1496.4 H906.4 M890.3,1650.2 H906.4 M923.13,1496.4 H939.23 M923.13,1650.2 H939.23 M955.97,1496.4 H972.07 M955.97,1650.2 H972.07 M137.7,1529.53 V1545.62 M1002.3,1529.53 V1545.62 M137.7,1565.25 V1581.35 M1002.3,1565.25 V1581.35 M137.7,1600.98 V1617.08 M1002.3,1600.98 V1617.08" fill="none" stroke="#ff66d9" stroke-width="5.3" stroke-linecap="round"/>
<path d="M137.7,1837.1 V1830.6 A7,7 0 0 1 144.7,1823.6 H151.2 M988.8,1823.6 H995.3 A7,7 0 0 1 1002.3,1830.6 V1837.1 M1002.3,1987.6 V1994.1 A7,7 0 0 1 995.3,2001.1 H988.8 M151.2,2001.1 H144.7 A7,7 0 0 1 137.7,1994.1 V1987.6 M167.93,1823.6 H184.03 M167.93,2001.1 H184.03 M200.77,1823.6 H216.87 M200.77,2001.1 H216.87 M233.6,1823.6 H249.7 M233.6,2001.1 H249.7 M266.44,1823.6 H282.54 M266.44,2001.1 H282.54 M299.27,1823.6 H315.37 M299.27,2001.1 H315.37 M332.11,1823.6 H348.21 M332.11,2001.1 H348.21 M364.94,1823.6 H381.04 M364.94,2001.1 H381.04 M397.78,1823.6 H413.88 M397.78,2001.1 H413.88 M430.61,1823.6 H446.71 M430.61,2001.1 H446.71 M463.45,1823.6 H479.55 M463.45,2001.1 H479.55 M496.28,1823.6 H512.38 M496.28,2001.1 H512.38 M529.12,1823.6 H545.22 M529.12,2001.1 H545.22 M561.95,1823.6 H578.05 M561.95,2001.1 H578.05 M594.78,1823.6 H610.88 M594.78,2001.1 H610.88 M627.62,1823.6 H643.72 M627.62,2001.1 H643.72 M660.45,1823.6 H676.55 M660.45,2001.1 H676.55 M693.29,1823.6 H709.39 M693.29,2001.1 H709.39 M726.12,1823.6 H742.22 M726.12,2001.1 H742.22 M758.96,1823.6 H775.06 M758.96,2001.1 H775.06 M791.79,1823.6 H807.89 M791.79,2001.1 H807.89 M824.63,1823.6 H840.73 M824.63,2001.1 H840.73 M857.46,1823.6 H873.56 M857.46,2001.1 H873.56 M890.3,1823.6 H906.4 M890.3,2001.1 H906.4 M923.13,1823.6 H939.23 M923.13,2001.1 H939.23 M955.97,1823.6 H972.07 M955.97,2001.1 H972.07 M137.7,1854.32 V1870.42 M1002.3,1854.32 V1870.42 M137.7,1887.64 V1903.74 M1002.3,1887.64 V1903.74 M137.7,1920.96 V1937.06 M1002.3,1920.96 V1937.06 M137.7,1954.28 V1970.38 M1002.3,1954.28 V1970.38" fill="none" stroke="#ff66d9" stroke-width="5.3" stroke-linecap="round"/>
<path d="M1693.5,1170 L852.72,687.4" fill="none" stroke="#8fb3f7" stroke-width="5.5" stroke-linecap="butt" stroke-dasharray="16.6 11.4" stroke-dashoffset="9.2"/>
<polygon points="831.3,675.1 861.06,674.88 846.12,700.9" fill="#8fb3f7"/>
<path d="M1729,1170 L1449.67,702.7" fill="none" stroke="#8fb3f7" stroke-width="5.5" stroke-linecap="butt" stroke-dasharray="16.6 11.4" stroke-dashoffset="9.2"/>
<polygon points="1437,681.5 1463.06,695.86 1437.31,711.26" fill="#8fb3f7"/>
<path d="M1752,1170 L1751.91,711.9" fill="none" stroke="#8fb3f7" stroke-width="5.6" stroke-linecap="butt" stroke-dasharray="16.6 11.4" stroke-dashoffset="9.2"/>
<polygon points="1751.9,687.2 1766.91,712.9 1736.91,712.9" fill="#8fb3f7"/>
<path d="M1315.7,1527.5 L1035.66,1435.23" fill="none" stroke="#f896e6" stroke-width="5.5" stroke-linecap="butt" stroke-dasharray="17.1 9.5" stroke-dashoffset="7.2"/>
<polygon points="1012.2,1427.5 1041.3,1421.3 1031.92,1449.79" fill="#f896e6"/>
<path d="M1315.8,1571 L1035.18,1558.41" fill="none" stroke="#f896e6" stroke-width="5.5" stroke-linecap="butt" stroke-dasharray="17.1 10.8" stroke-dashoffset="8.6"/>
<polygon points="1010.5,1557.3 1036.85,1543.47 1035.5,1573.44" fill="#f896e6"/>
<path d="M1317.2,1653.5 L1033.96,1805.61" fill="none" stroke="#f896e6" stroke-width="5.5" stroke-linecap="butt" stroke-dasharray="17.1 9.5" stroke-dashoffset="7.4"/>
<polygon points="1012.2,1817.3 1027.74,1791.93 1041.94,1818.36" fill="#f896e6"/>
</svg></body></html>
